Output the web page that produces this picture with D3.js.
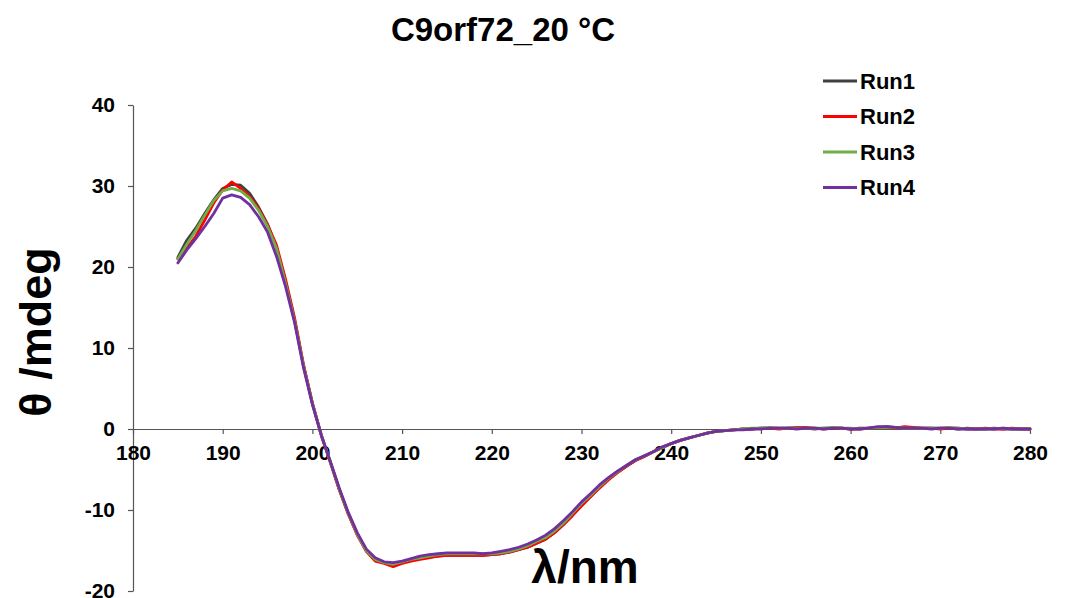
<!DOCTYPE html>
<html>
<head>
<meta charset="utf-8">
<script src="https://cdn.jsdelivr.net/npm/d3@7"></script>
<style>
  body { margin: 0; background: #fff; }
  svg { display: block; font-family: "Liberation Sans", Arial, Helvetica, sans-serif; font-weight: bold; }
</style>
</head>
<body>
<div id="chart"></div>
<script>
// Wavelength grid (nm) and CD signal (mdeg) for each run
const wavelengths = d3.range(185, 281);

const run1 = [
  21.2, 23.3, 24.8, 26.6, 28.3, 29.7, 30.2, 30.1, 29.1, 27.4,
  25.3, 22.4, 18.2, 13.5, 7.9, 3.2, -0.8, -4.1, -7.5, -10.5,
  -13.0, -15.0, -16.2, -16.5, -16.8, -16.5, -16.2, -16.0, -15.8, -15.7,
  -15.6, -15.6, -15.6, -15.6, -15.6, -15.5, -15.4, -15.2, -14.9, -14.6,
  -14.1, -13.6, -12.8, -11.8, -10.6, -9.4, -8.3, -7.2, -6.2, -5.4,
  -4.6, -3.9, -3.4, -2.8, -2.3, -1.8, -1.4, -1.1, -0.8, -0.5,
  -0.3, -0.2, -0.1, 0.0, 0.0, 0.1, 0.1, 0.1, 0.1, 0.1,
  0.1, 0.0, 0.1, 0.1, 0.1, 0.0, 0.1, 0.1, 0.2, 0.3,
  0.2, 0.2, 0.1, 0.1, 0.1, 0.1, 0.1, 0.0, 0.1, 0.0,
  0.0, 0.1, 0.0, 0.0, 0.0, 0.0
];

const run2 = [
  21.0, 22.3, 23.8, 25.8, 27.9, 29.5, 30.5, 29.7, 28.7, 27.2,
  25.2, 22.7, 18.5, 13.8, 8.0, 3.2, -0.8, -4.1, -7.5, -10.5,
  -13.1, -15.1, -16.3, -16.6, -17.0, -16.6, -16.3, -16.1, -15.9, -15.7,
  -15.6, -15.6, -15.6, -15.6, -15.6, -15.5, -15.4, -15.2, -14.9, -14.6,
  -14.1, -13.6, -12.8, -11.8, -10.7, -9.5, -8.4, -7.3, -6.3, -5.4,
  -4.6, -3.9, -3.4, -2.8, -2.3, -1.8, -1.4, -1.1, -0.8, -0.5,
  -0.3, -0.2, -0.1, 0.0, 0.0, 0.1, 0.1, 0.0, 0.1, 0.2,
  0.2, 0.1, 0.0, 0.1, 0.1, 0.0, 0.0, 0.1, 0.2, 0.2,
  0.1, 0.3, 0.2, 0.1, 0.1, 0.0, 0.1, 0.1, 0.0, 0.0,
  0.1, 0.0, 0.0, 0.1, 0.0, 0.0
];

const run3 = [
  21.0, 22.8, 24.5, 26.4, 28.2, 29.4, 29.7, 29.4, 28.5, 27.0,
  25.0, 22.3, 18.0, 13.4, 7.8, 3.1, -0.8, -4.0, -7.4, -10.4,
  -13.0, -15.0, -16.1, -16.5, -16.7, -16.4, -16.1, -15.9, -15.7, -15.5,
  -15.4, -15.4, -15.4, -15.4, -15.4, -15.4, -15.3, -15.1, -14.8, -14.4,
  -13.9, -13.4, -12.6, -11.6, -10.4, -9.2, -8.2, -7.1, -6.1, -5.3,
  -4.5, -3.8, -3.3, -2.8, -2.3, -1.8, -1.4, -1.1, -0.8, -0.5,
  -0.3, -0.2, -0.1, 0.0, 0.1, 0.1, 0.2, 0.1, 0.1, 0.1,
  0.1, 0.1, 0.1, 0.2, 0.1, 0.1, 0.0, 0.1, 0.2, 0.2,
  0.2, 0.1, 0.1, 0.1, 0.1, 0.1, 0.2, 0.1, 0.0, 0.0,
  0.0, 0.0, 0.1, 0.0, 0.0, 0.0
];

const run4 = [
  20.5, 22.1, 23.5, 25.0, 26.6, 28.5, 28.9, 28.6, 27.7, 26.2,
  24.3, 21.3, 17.6, 13.2, 7.6, 3.0, -0.8, -4.0, -7.3, -10.3,
  -12.8, -14.8, -15.9, -16.4, -16.5, -16.3, -16.0, -15.7, -15.5, -15.4,
  -15.3, -15.3, -15.3, -15.3, -15.4, -15.3, -15.1, -14.9, -14.6, -14.2,
  -13.7, -13.1, -12.3, -11.3, -10.2, -9.0, -8.0, -6.9, -6.0, -5.2,
  -4.5, -3.8, -3.3, -2.8, -2.2, -1.8, -1.4, -1.1, -0.8, -0.5,
  -0.3, -0.2, -0.1, -0.1, 0.0, 0.0, 0.1, 0.1, 0.1, 0.0,
  0.1, 0.1, 0.0, 0.1, 0.1, 0.0, 0.0, 0.1, 0.3, 0.3,
  0.2, 0.1, 0.1, 0.1, 0.0, 0.1, 0.1, 0.0, 0.0, 0.0,
  0.0, 0.0, 0.1, 0.0, 0.0, 0.0
];

const seriesNames = ["Run1", "Run2", "Run3", "Run4"];
const seriesColors = ["#404040", "#ff0000", "#70ad47", "#7030a0"];
const xTicks = [180, 190, 200, 210, 220, 230, 240, 250, 260, 270, 280];
const yTicks = [-20, -10, 0, 10, 20, 30, 40];

const series = [run1, run2, run3, run4].map((values, i) => ({
  name: seriesNames[i],
  color: seriesColors[i],
  points: values.map((v, j) => [wavelengths[j], v])
}));

// Chart dimensions
const width = 1067;
const height = 598;
const plotLeft = 133;
const plotRight = 1030;
const plotTop = 105;
const plotBottom = 591;

const x = d3.scaleLinear().domain([180, 280]).range([plotLeft, plotRight]);
const y = d3.scaleLinear().domain([-20, 40]).range([plotBottom, plotTop]);

const svg = d3.select("#chart")
  .append("svg")
  .attr("width", width)
  .attr("height", height)
  .attr("viewBox", [0, 0, width, height]);

// Title
svg.append("text")
  .attr("x", 503)
  .attr("y", 41)
  .attr("text-anchor", "middle")
  .style("font-size", "33px")
  .text("C9orf72_20 °C");

// Y axis (plain hyphen for negatives, as in the original)
const yAxis = svg.append("g")
  .attr("transform", `translate(${plotLeft},0)`)
  .call(d3.axisLeft(y).tickValues(yTicks).tickFormat(d => String(d))
    .tickSize(5).tickSizeOuter(0).tickPadding(13));

// X axis sits on the zero line
const xAxis = svg.append("g")
  .attr("transform", `translate(0,${y(0)})`)
  .call(d3.axisBottom(x).tickValues(xTicks).tickFormat(d => String(d))
    .tickSize(5).tickSizeOuter(0).tickPadding(11));

[yAxis, xAxis].forEach(g => {
  g.selectAll(".domain, .tick line").attr("stroke", "#555").attr("stroke-width", 1.2);
  g.selectAll(".tick text")
    .attr("fill", "#000")
    .style("font-family", "'Liberation Sans', Arial, sans-serif")
    .style("font-weight", "bold")
    .style("font-size", "21px");
});

// Axis titles
svg.append("text")
  .attr("transform", `translate(51,332) rotate(-90)`)
  .attr("text-anchor", "middle")
  .style("font-size", "45px")
  .text("θ /mdeg");

svg.append("text")
  .attr("x", 585)
  .attr("y", 583)
  .attr("text-anchor", "middle")
  .style("font-size", "46px")
  .text("λ/nm");

// Lines
const line = d3.line()
  .x(d => x(d[0]))
  .y(d => y(d[1]));

svg.append("g")
  .attr("fill", "none")
  .attr("stroke-width", 2.8)
  .attr("stroke-linejoin", "round")
  .attr("stroke-linecap", "round")
  .selectAll("path")
  .data(series)
  .join("path")
  .attr("stroke", d => d.color)
  .attr("d", d => line(d.points));

// Legend
const legend = svg.append("g")
  .selectAll("g")
  .data(series)
  .join("g")
  .attr("transform", (d, i) => `translate(823,${81 + i * 35.5})`);

legend.append("line")
  .attr("x1", 0)
  .attr("x2", 34)
  .attr("stroke", d => d.color)
  .attr("stroke-width", 2.8);

legend.append("text")
  .attr("x", 37)
  .attr("y", 7.5)
  .style("font-size", "22px")
  .text(d => d.name);
</script>
</body>
</html>
